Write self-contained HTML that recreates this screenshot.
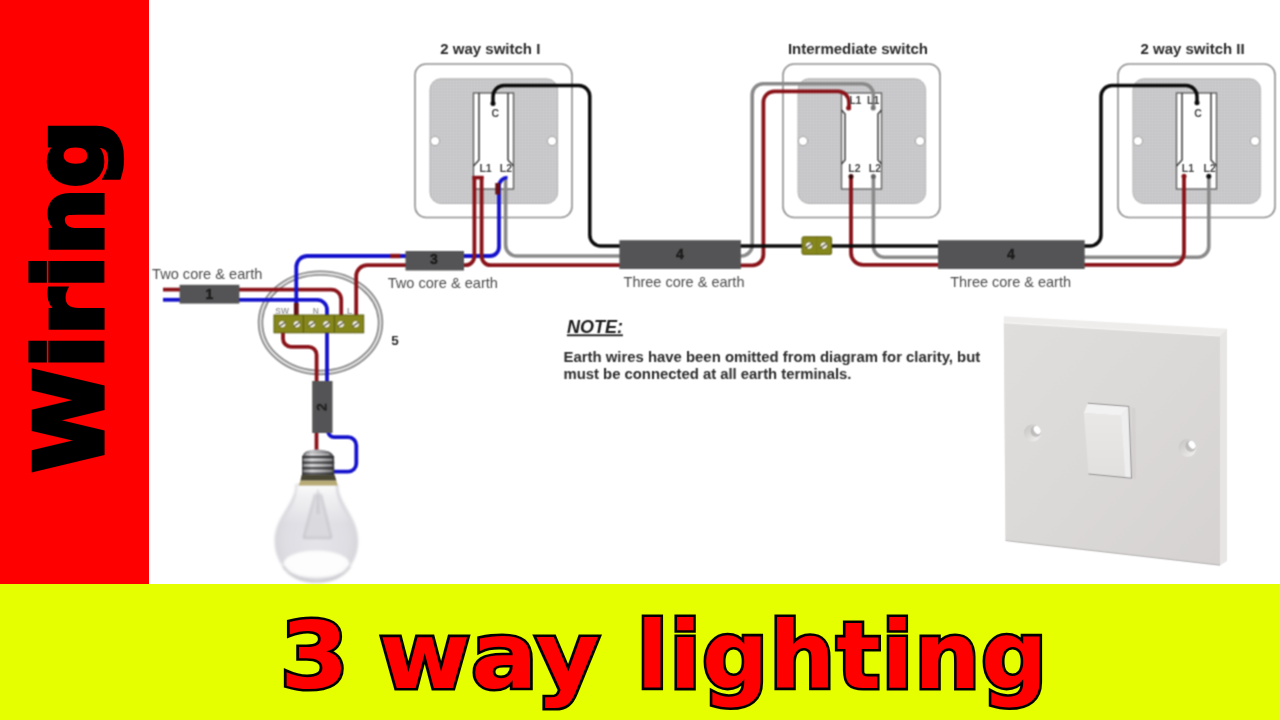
<!DOCTYPE html>
<html lang="en">
<head>
<meta charset="utf-8">
<title>Wiring - 3 way lighting</title>
<style>
html,body{margin:0;padding:0;}
body{width:1280px;height:720px;overflow:hidden;background:#fff;position:relative;font-family:"Liberation Sans",sans-serif;}
.redbar{position:absolute;left:0;top:0;width:149px;height:584px;background:#fe0000;}
.yellowbar{position:absolute;left:0;top:584px;width:1280px;height:136px;background:#e6ff00;}
.side{position:absolute;left:0;top:0;width:0;height:0;}
.side span{position:absolute;left:0;top:0;display:block;white-space:pre;font:bold 92.6px/100px "DejaVu Sans","Liberation Sans",sans-serif;color:#000;-webkit-text-stroke:5.2px #000;letter-spacing:0.8px;transform-origin:0 0;transform:translate(20px,472px) rotate(-90deg) scaleX(1.012);}
.big{position:absolute;top:605.5px;white-space:pre;font:bold 92.6px/100px "DejaVu Sans","Liberation Sans",sans-serif;color:#ff0000;-webkit-text-stroke:5.2px #000;paint-order:stroke fill;transform-origin:0 0;}
.big.w1{left:279.6px;transform:scaleX(1.069);word-spacing:-5px;letter-spacing:0.5px;}
.big.w2{left:636.5px;letter-spacing:1px;transform:scaleX(1.0);}
#diagram{position:absolute;left:0;top:0;width:1280px;height:720px;font-family:"Liberation Sans",sans-serif;}
</style>
</head>
<body>
<div class="redbar"></div>
<div class="yellowbar"></div>
<div class="side"><span>Wiring</span></div>
<svg id="diagram" viewBox="0 0 1280 720" width="1280" height="720">
<defs>
<pattern id="grid" width="3" height="3" patternUnits="userSpaceOnUse">
<path d="M0,0.5 H3 M0.5,0 V3" stroke="#ffffff" stroke-opacity="0.14" stroke-width="1"/>
</pattern>
<radialGradient id="glass" cx="0.5" cy="0.56" r="0.62">
<stop offset="0" stop-color="#e4e4e9"/><stop offset="0.6" stop-color="#dedee3"/><stop offset="0.88" stop-color="#d3d3d9"/><stop offset="1" stop-color="#c9c9d0"/>
</radialGradient>
<linearGradient id="cap" x1="0" x2="1" y1="0" y2="0">
<stop offset="0" stop-color="#57575a"/><stop offset="0.3" stop-color="#c4c4c7"/><stop offset="0.62" stop-color="#98989c"/><stop offset="1" stop-color="#454548"/>
</linearGradient>
<linearGradient id="face" x1="0" x2="1" y1="0" y2="1">
<stop offset="0" stop-color="#e0dedd"/><stop offset="0.5" stop-color="#dbd9d8"/><stop offset="1" stop-color="#d5d2d1"/>
</linearGradient>
<linearGradient id="rock" x1="0" x2="0" y1="0" y2="1">
<stop offset="0" stop-color="#e9e8e7"/><stop offset="1" stop-color="#e2e0df"/>
</linearGradient>
<linearGradient id="hole" x1="0" x2="1" y1="0" y2="1">
<stop offset="0" stop-color="#c2bfbf"/><stop offset="0.5" stop-color="#dcd9d9"/><stop offset="1" stop-color="#f6f4f4"/>
</linearGradient>
<linearGradient id="neck" x1="0" x2="0" y1="0" y2="1">
<stop offset="0" stop-color="#ffffff" stop-opacity="0.9"/><stop offset="1" stop-color="#ffffff" stop-opacity="0"/>
</linearGradient>
<filter id="soft" x="0" y="0" width="1280" height="720" filterUnits="userSpaceOnUse" color-interpolation-filters="sRGB"><feConvolveMatrix order="3" kernelMatrix="0.0729 0.1242 0.0729 0.1242 0.2116 0.1242 0.0729 0.1242 0.0729" edgeMode="none" preserveAlpha="false"/></filter>
<filter id="soft3" x="260" y="470" width="120" height="125" filterUnits="userSpaceOnUse"><feGaussianBlur stdDeviation="0.9"/></filter>
<filter id="softt" x="0" y="0" width="1280" height="720" filterUnits="userSpaceOnUse" color-interpolation-filters="sRGB"><feConvolveMatrix order="3" kernelMatrix="0.0484 0.1232 0.0484 0.1232 0.3136 0.1232 0.0484 0.1232 0.0484" edgeMode="none" preserveAlpha="false"/></filter>
<filter id="soft2" x="0" y="0" width="1280" height="720" filterUnits="userSpaceOnUse" color-interpolation-filters="sRGB"><feConvolveMatrix order="3" kernelMatrix="0.0324 0.1152 0.0324 0.1152 0.4096 0.1152 0.0324 0.1152 0.0324" edgeMode="none" preserveAlpha="false"/></filter>
</defs>
<g filter="url(#soft)">
<rect x="415" y="64" width="157" height="153.5" rx="11" fill="#fff" stroke="#909090" stroke-width="1.6"/>
<rect x="430" y="78.8" width="127.6" height="124.6" rx="11" fill="#c3c3c5" stroke="#adadaf" stroke-width="1"/>
<rect x="430" y="78.5" width="128" height="125" rx="11" fill="url(#grid)"/>
<circle cx="435" cy="141" r="4.6" fill="#fff" stroke="#a0a0a0" stroke-width="1"/>
<circle cx="552" cy="141" r="4.6" fill="#fff" stroke="#a0a0a0" stroke-width="1"/>
<rect x="473.5" y="93" width="40" height="96" fill="#fff" stroke="#5a5a5a" stroke-width="1.3"/>
<path d="M479.0,93 V160 L473.5,166 M508.0,93 V160 L513.5,166" fill="none" stroke="#3a3a3a" stroke-width="1.5"/>
<rect x="783" y="64" width="157" height="153.5" rx="11" fill="#fff" stroke="#909090" stroke-width="1.6"/>
<rect x="798" y="78.8" width="127.6" height="124.6" rx="11" fill="#c3c3c5" stroke="#adadaf" stroke-width="1"/>
<rect x="798" y="78.5" width="128" height="125" rx="11" fill="url(#grid)"/>
<circle cx="803" cy="141" r="4.6" fill="#fff" stroke="#a0a0a0" stroke-width="1"/>
<circle cx="920" cy="141" r="4.6" fill="#fff" stroke="#a0a0a0" stroke-width="1"/>
<rect x="841.5" y="93" width="40" height="96" fill="#fff" stroke="#5a5a5a" stroke-width="1.3"/>
<path d="M841.5,110 L845.0,114 V160 L841.5,164 M881.5,110 L878.0,114 V160 L881.5,164" fill="none" stroke="#3a3a3a" stroke-width="1.5"/>
<rect x="1118" y="64" width="157" height="153.5" rx="11" fill="#fff" stroke="#909090" stroke-width="1.6"/>
<rect x="1133" y="78.8" width="127.6" height="124.6" rx="11" fill="#c3c3c5" stroke="#adadaf" stroke-width="1"/>
<rect x="1133" y="78.5" width="128" height="125" rx="11" fill="url(#grid)"/>
<circle cx="1138" cy="141" r="4.6" fill="#fff" stroke="#a0a0a0" stroke-width="1"/>
<circle cx="1255" cy="141" r="4.6" fill="#fff" stroke="#a0a0a0" stroke-width="1"/>
<rect x="1176.5" y="93" width="40" height="96" fill="#fff" stroke="#5a5a5a" stroke-width="1.3"/>
<path d="M1182.0,93 V160 L1176.5,166 M1211.0,93 V160 L1216.5,166" fill="none" stroke="#3a3a3a" stroke-width="1.5"/>
<ellipse cx="320.5" cy="322.8" rx="60" ry="49.7" fill="none" stroke="#868686" stroke-width="5.4"/>
<ellipse cx="320.5" cy="322.8" rx="60" ry="49.7" fill="none" stroke="#e2e2e2" stroke-width="2.2"/>
<path d="M163,289.6 H181" fill="none" stroke="#8a141a" stroke-width="3.8" stroke-linecap="butt" stroke-linejoin="round" />
<path d="M163,299.8 H181" fill="none" stroke="#1613cc" stroke-width="3.8" stroke-linecap="butt" stroke-linejoin="round" />
<path d="M238,289.6 L331.2,289.6 C336.72,289.6 341.2,294.08 341.2,299.6 L341.2,316" fill="none" stroke="#8a141a" stroke-width="3.8" stroke-linecap="butt" stroke-linejoin="round" />
<path d="M238,299.8 L317.0,299.8 C322.52,299.8 327.0,304.28 327.0,309.8 L327,382" fill="none" stroke="#1613cc" stroke-width="3.8" stroke-linecap="butt" stroke-linejoin="round" />
<path d="M406,256 L307.3,256.0 C301.22,256.0 296.3,260.92 296.3,267.0 L296.3,305" fill="none" stroke="#1613cc" stroke-width="3.8" stroke-linecap="butt" stroke-linejoin="round" />
<path d="M296.3,303 V316" fill="none" stroke="#650f15" stroke-width="4.8" stroke-linecap="butt" stroke-linejoin="round" />
<path d="M390.3,256 H400.3" fill="none" stroke="#8a141a" stroke-width="4.4" stroke-linecap="butt" stroke-linejoin="round" />
<path d="M406,265.2 L367.2,265.2 C361.12,265.2 356.2,270.12 356.2,276.2 L356.2,316" fill="none" stroke="#8a141a" stroke-width="3.8" stroke-linecap="butt" stroke-linejoin="round" />
<path d="M283,332 L283.0,338.8 C283.0,343.22 286.58,346.8 291.0,346.8 L308.6,346.8 C313.02,346.8 316.6,350.38 316.6,354.8 L316.6,382" fill="none" stroke="#8a141a" stroke-width="3.8" stroke-linecap="butt" stroke-linejoin="round" />
<path d="M316.5,432 V451" fill="none" stroke="#8a141a" stroke-width="3.8" stroke-linecap="butt" stroke-linejoin="round" />
<path d="M328,431 L328.0,431.0 C328.0,434.42 330.78,437.2 334.2,437.2 L348.3,437.2 C352.72,437.2 356.3,440.78 356.3,445.2 L356.3,463.6 C356.3,468.02 352.72,471.6 348.3,471.6 L332,471.6" fill="none" stroke="#1613cc" stroke-width="3.8" stroke-linecap="butt" stroke-linejoin="round" />
<path d="M463,256 L490.0,256.0 C494.97,256.0 499.0,251.97 499.0,247.0 L499.0,186.1 C499.0,181.41 502.81,177.6 507.5,177.6 L507.5,177.6" fill="none" stroke="#1613cc" stroke-width="3.8" stroke-linecap="butt" stroke-linejoin="round" />
<path d="M497.6,183 V194.5" fill="none" stroke="#650f15" stroke-width="4.6" stroke-linecap="butt" stroke-linejoin="round" />
<path d="M463,265.2 L465.4,265.2 C470.37,265.2 474.4,261.17 474.4,256.2 L474.4,176" fill="none" stroke="#8a141a" stroke-width="3.8" stroke-linecap="butt" stroke-linejoin="round" />
<path d="M481.6,176 L481.6,256.2 C481.6,261.17 485.63,265.2 490.6,265.2 L620,265.2" fill="none" stroke="#8a141a" stroke-width="3.8" stroke-linecap="butt" stroke-linejoin="round" />
<path d="M472.5,177.6 H483.5" fill="none" stroke="#8a141a" stroke-width="3.6" stroke-linecap="butt" stroke-linejoin="round" />
<path d="M505.6,180 L505.6,245.0 C505.6,251.08 510.52,256.0 516.6,256.0 L620,256" fill="none" stroke="#8a8a8a" stroke-width="3.6" stroke-linecap="butt" stroke-linejoin="round" />
<path d="M740,256 L741.2,256.0 C747.28,256.0 752.2,251.08 752.2,245.0 L752.2,94.8 C752.2,88.72 757.12,83.8 763.2,83.8 L862.4,83.8 C868.48,83.8 873.4,88.72 873.4,94.8 L873.4,108" fill="none" stroke="#8a8a8a" stroke-width="3.6" stroke-linecap="butt" stroke-linejoin="round" />
<path d="M740,265.4 L752.4,265.4 C758.48,265.4 763.4,260.48 763.4,254.4 L763.4,102.3 C763.4,96.22 768.32,91.3 774.4,91.3 L838.0,91.3 C844.08,91.3 849.0,96.22 849.0,102.3 L849,108" fill="none" stroke="#8a141a" stroke-width="3.8" stroke-linecap="butt" stroke-linejoin="round" />
<path d="M851,176 L851.0,252.8 C851.0,259.43 856.37,264.8 863.0,264.8 L939,264.8" fill="none" stroke="#8a141a" stroke-width="3.8" stroke-linecap="butt" stroke-linejoin="round" />
<path d="M873.4,176 L873.4,246.2 C873.4,252.28 878.32,257.2 884.4,257.2 L939,257.2" fill="none" stroke="#8a8a8a" stroke-width="3.6" stroke-linecap="butt" stroke-linejoin="round" />
<path d="M1084,257.2 L1197.8,257.2 C1203.88,257.2 1208.8,252.28 1208.8,246.2 L1208.8,176" fill="none" stroke="#8a8a8a" stroke-width="3.6" stroke-linecap="butt" stroke-linejoin="round" />
<path d="M1084,264.8 L1172.0,264.8 C1178.63,264.8 1184.0,259.43 1184.0,252.8 L1184,176" fill="none" stroke="#8a141a" stroke-width="3.8" stroke-linecap="butt" stroke-linejoin="round" />
<path d="M493,104 L493.0,96.6 C493.0,90.52 497.92,85.6 504.0,85.6 L578.8,85.6 C584.88,85.6 589.8,90.52 589.8,96.6 L589.8,235.0 C589.8,241.08 594.72,246.0 600.8,246.0 L620,246" fill="none" stroke="#0b0b0b" stroke-width="3.5" stroke-linecap="butt" stroke-linejoin="round" />
<path d="M740,246 H939" fill="none" stroke="#0b0b0b" stroke-width="3.5" stroke-linecap="butt" stroke-linejoin="round" />
<path d="M1084,246 L1090.0,246.0 C1096.08,246.0 1101.0,241.08 1101.0,235.0 L1101.0,96.6 C1101.0,90.52 1105.92,85.6 1112.0,85.6 L1186.0,85.6 C1192.08,85.6 1197.0,90.52 1197.0,96.6 L1197,103" fill="none" stroke="#0b0b0b" stroke-width="3.5" stroke-linecap="butt" stroke-linejoin="round" />
<circle cx="493" cy="103.6" r="2.5" fill="#0b0b0b"/>
<circle cx="848.6" cy="108" r="2.5" fill="#8a141a"/>
<circle cx="873.2" cy="108" r="2.5" fill="#777"/>
<circle cx="851" cy="176.4" r="2.5" fill="#3a0a0a"/>
<circle cx="873.4" cy="176.4" r="2.5" fill="#666"/>
<circle cx="1197" cy="102.8" r="2.5" fill="#0b0b0b"/>
<circle cx="1184" cy="176.2" r="2.5" fill="#8a141a"/>
<circle cx="1208.8" cy="176.2" r="2.5" fill="#111"/>
<rect x="179.6" y="284.8" width="59.8" height="18.8" fill="#545456"/>
<rect x="405.5" y="251" width="58.5" height="19.5" fill="#545456"/>
<rect x="619.4" y="240.2" width="121.5" height="28.8" fill="#545456"/>
<rect x="938" y="240.2" width="146.7" height="28.8" fill="#545456"/>
<rect x="312.2" y="381" width="20.3" height="52" fill="#545456"/>
<rect x="274" y="315" width="89.7" height="17.8" fill="#86871a" stroke="#5d5e12" stroke-width="1"/>
<path d="M303.4,315 V332.8 M334.4,315 V332.8" stroke="#5d5e12" stroke-width="1.2"/>
<circle cx="282.2" cy="324.3" r="3.8" fill="#f4f2e4" stroke="#5d5e12" stroke-width="0.8"/><path d="M279.16,326.39 L285.24,322.21" stroke="#4a4a3a" stroke-width="1.2"/>
<circle cx="296.8" cy="324.3" r="3.8" fill="#f4f2e4" stroke="#5d5e12" stroke-width="0.8"/><path d="M293.76,326.39 L299.84,322.21" stroke="#4a4a3a" stroke-width="1.2"/>
<circle cx="311.8" cy="324.3" r="3.8" fill="#f4f2e4" stroke="#5d5e12" stroke-width="0.8"/><path d="M308.76,326.39 L314.84,322.21" stroke="#4a4a3a" stroke-width="1.2"/>
<circle cx="326.4" cy="324.3" r="3.8" fill="#f4f2e4" stroke="#5d5e12" stroke-width="0.8"/><path d="M323.36,326.39 L329.44,322.21" stroke="#4a4a3a" stroke-width="1.2"/>
<circle cx="340.8" cy="324.3" r="3.8" fill="#f4f2e4" stroke="#5d5e12" stroke-width="0.8"/><path d="M337.76,326.39 L343.84,322.21" stroke="#4a4a3a" stroke-width="1.2"/>
<circle cx="355.7" cy="324.3" r="3.8" fill="#f4f2e4" stroke="#5d5e12" stroke-width="0.8"/><path d="M352.66,326.39 L358.74,322.21" stroke="#4a4a3a" stroke-width="1.2"/>
<rect x="802" y="236.8" width="29.6" height="17.6" rx="1.5" fill="#86871a" stroke="#5d5e12" stroke-width="1"/>
<path d="M816.8,237 V254" stroke="#5d5e12" stroke-opacity="0.25" stroke-width="1"/>
<circle cx="809" cy="245.6" r="3.8" fill="#f4f2e4" stroke="#5d5e12" stroke-width="0.8"/><path d="M805.96,247.69 L812.04,243.51" stroke="#4a4a3a" stroke-width="1.2"/>
<circle cx="823.8" cy="245.6" r="3.8" fill="#f4f2e4" stroke="#5d5e12" stroke-width="0.8"/><path d="M820.76,247.69 L826.84,243.51" stroke="#4a4a3a" stroke-width="1.2"/>
<g filter="url(#soft3)">
<path d="M295.8,484 C295.8,504 274.6,516 274.6,541 C274.6,565 293,582.6 316.4,582.6 C340,582.6 358.2,565 358.2,541 C358.2,516 338,504 338,484 Z" fill="url(#glass)"/>
<path d="M297,485 C297.5,500 288,512 281,524 L352,524 C345,512 335.5,500 336,485 Z" fill="url(#neck)"/>
<ellipse cx="316.4" cy="564" rx="33" ry="13.5" fill="#ffffff" opacity="0.92"/>
<path d="M283,566 C292,579 305,581.5 316.4,581.5 C328,581.5 341,579 350,566" fill="none" stroke="#c2c2c8" stroke-width="2.2" opacity="0.9"/>
<path d="M315,494 L303.5,538 H331.5 L321,494 Z" fill="#d6d6da" opacity="0.7"/>
<path d="M315,494 L303.5,538 H331.5 L321,494 M318,490 V514" fill="none" stroke="#9d9da3" stroke-width="0.9" opacity="0.85"/>
</g>
<path d="M302,459 Q302,452 309,450.5 Q316.5,448.6 325,450.5 Q334.2,452 334.2,459 V476.5 H302 Z" fill="url(#cap)"/>
<path d="M302,457 H334.2 M302,462.6 H334.2 M302,468.2 H334.2 M302,473.8 H334.2" stroke="#2e2e30" stroke-width="1.9" opacity="0.8"/>
<path d="M306,454.3 H329 M304,459.8 H332 M304,465.4 H332 M304,471 H332" stroke="#f4f4f4" stroke-width="1.2" opacity="0.5"/>
<path d="M301.6,475 H334.6 L336.4,480.8 H300.4 Z" fill="#4a4634"/>
<path d="M300.4,480.6 H336.4 L337.6,485.4 H298.6 Z" fill="#b9ab76"/>
</g>
<g filter="url(#soft2)">
<path d="M1003.8,316.2 L1227,328.8 L1227,561 L1220,565.2 L1005.5,540.5 Z" fill="#eeedec"/>
<path d="M1003.8,322.6 L1220,336 L1220,565.2 L1005.5,540.5 Z" fill="url(#face)"/>
<path d="M1220,336 L1227,329 V561 L1220,565.2 Z" fill="#e8e6e5"/>
<path d="M1003.8,322.6 L1220,336" stroke="#f6f5f4" stroke-width="1.2" fill="none"/>
<path d="M1005.5,540.5 L1220,565.2" stroke="#bdbab9" stroke-width="1.2" fill="none"/>
<circle cx="1032.6" cy="432.9" r="8.6" fill="url(#hole)"/>
<ellipse cx="1035.8" cy="431.3" rx="5.2" ry="5.6" fill="#aaa7a7" opacity="0.6" transform="rotate(-30 1035.8 431.3)"/>
<ellipse cx="1037.2" cy="429.9" rx="3.1" ry="4.3" fill="#ffffff" transform="rotate(-35 1037.2 429.9)"/>
<circle cx="1187.5" cy="447.8" r="9.0" fill="url(#hole)"/>
<ellipse cx="1190.7" cy="446.2" rx="5.2" ry="5.6" fill="#aaa7a7" opacity="0.6" transform="rotate(-30 1190.7 446.2)"/>
<ellipse cx="1192.1" cy="444.8" rx="3.1" ry="4.3" fill="#ffffff" transform="rotate(-35 1192.1 444.8)"/>
<path d="M1131.5,407 L1135.5,408.5 L1136,479.2 L1131.5,478.2 Z" fill="#c9c5c4" opacity="0.35"/>
<path d="M1087.8,403.2 L1128.8,406.4 L1121,415.7 L1083.9,412.9 Z" fill="#f3f2f2"/>
<path d="M1083.9,412.9 L1121,415.7 L1125.3,477.5 L1088.5,474 Z" fill="url(#rock)"/>
<path d="M1121,415.7 L1128.8,406.4 L1131.5,478.2 L1125.3,477.5 Z" fill="#efeeee"/>
<path d="M1087.8,403.2 L1128.8,406.4 L1131.5,478.2 L1088.5,474" fill="none" stroke="#7d7a7a" stroke-width="0.9" opacity="0.85"/>
</g>
<g filter="url(#softt)">
<text x="490.3" y="53.8" font-size="15" font-weight="bold" fill="#2a2a2a" text-anchor="middle" >2 way switch I</text>
<text x="857.9" y="53.8" font-size="15" font-weight="bold" fill="#2a2a2a" text-anchor="middle" >Intermediate switch</text>
<text x="1192.6" y="53.8" font-size="15" font-weight="bold" fill="#2a2a2a" text-anchor="middle" >2 way switch II</text>
<text x="207.2" y="278.8" font-size="14.6" font-weight="normal" fill="#4c4c4c" text-anchor="middle" >Two core &amp; earth</text>
<text x="442.8" y="287.5" font-size="14.6" font-weight="normal" fill="#4c4c4c" text-anchor="middle" >Two core &amp; earth</text>
<text x="684" y="287.3" font-size="14.5" font-weight="normal" fill="#4c4c4c" text-anchor="middle" >Three core &amp; earth</text>
<text x="1010.6" y="287.3" font-size="14.5" font-weight="normal" fill="#4c4c4c" text-anchor="middle" >Three core &amp; earth</text>
<text x="209.3" y="299.2" font-size="14" font-weight="bold" fill="#1c1c1c" text-anchor="middle" stroke="#1c1c1c" stroke-width="0.4">1</text>
<text x="433.8" y="263.6" font-size="14" font-weight="bold" fill="#1c1c1c" text-anchor="middle" stroke="#1c1c1c" stroke-width="0.4">3</text>
<text x="679.8" y="258.6" font-size="14" font-weight="bold" fill="#1c1c1c" text-anchor="middle" stroke="#1c1c1c" stroke-width="0.4">4</text>
<text x="1011" y="258.8" font-size="14" font-weight="bold" fill="#1c1c1c" text-anchor="middle" stroke="#1c1c1c" stroke-width="0.4">4</text>
<text transform="translate(326.6,407.2) rotate(-90)" font-size="14.5" font-weight="bold" fill="#1c1c1c" text-anchor="middle">2</text>
<text x="395" y="345.4" font-size="13.5" font-weight="bold" fill="#2a2a2a" text-anchor="middle" >5</text>
<text x="282.2" y="313.8" font-size="8.5" font-weight="bold" fill="#9c9c9c" text-anchor="middle" >SW</text>
<text x="315.7" y="313.8" font-size="8.5" font-weight="bold" fill="#9c9c9c" text-anchor="middle" >N</text>
<text x="349.6" y="313.8" font-size="8.5" font-weight="bold" fill="#9c9c9c" text-anchor="middle" >L</text>
<text x="495.3" y="117" font-size="10.5" font-weight="bold" fill="#444" text-anchor="middle" >C</text>
<text x="1198" y="117" font-size="10.5" font-weight="bold" fill="#444" text-anchor="middle" >C</text>
<text x="485.6" y="172.3" font-size="10.5" font-weight="bold" fill="#444" text-anchor="middle" >L1</text>
<text x="506" y="172.3" font-size="10.5" font-weight="bold" fill="#444" text-anchor="middle" >L2</text>
<text x="1188" y="172.3" font-size="10.5" font-weight="bold" fill="#444" text-anchor="middle" >L1</text>
<text x="1209.7" y="172.3" font-size="10.5" font-weight="bold" fill="#444" text-anchor="middle" >L2</text>
<text x="855.3" y="103.5" font-size="10.5" font-weight="bold" fill="#444" text-anchor="middle" >L1</text>
<text x="873.2" y="103.5" font-size="10.5" font-weight="bold" fill="#444" text-anchor="middle" >L1</text>
<text x="854.4" y="172.3" font-size="10.5" font-weight="bold" fill="#444" text-anchor="middle" >L2</text>
<text x="875" y="172.3" font-size="10.5" font-weight="bold" fill="#444" text-anchor="middle" >L2</text>
<text x="566.9" y="333.4" font-size="18" font-weight="bold" font-style="italic" fill="#1a1a1a" text-decoration="underline">NOTE:</text>
<text x="563.5" y="361.9" font-size="14.9" font-weight="bold" fill="#2b2b2b" text-anchor="start" >Earth wires have been omitted from diagram for clarity, but</text>
<text x="563.5" y="379.3" font-size="14.85" font-weight="bold" fill="#2b2b2b" text-anchor="start" >must be connected at all earth terminals.</text>
</g>
</svg>
<div class="big w1">3 way</div>
<div class="big w2">lighting</div>
</body>
</html>
